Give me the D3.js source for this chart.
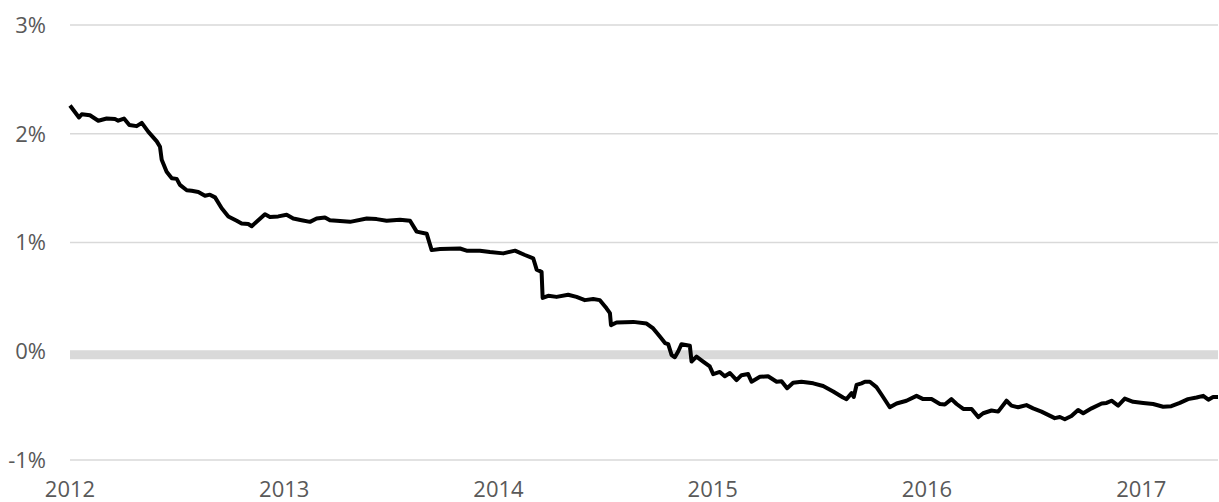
<!DOCTYPE html>
<html>
<head>
<meta charset="utf-8">
<script src="https://cdn.jsdelivr.net/npm/d3@7/dist/d3.min.js"></script>
<style>
  body { margin: 0; background: #fff; }
  text { font-family: "Open Sans", "Liberation Sans", sans-serif; fill: #595959; }
</style>
</head>
<body>
<div id="chart"></div>
<script>
/*SVG Size*/
var width = 1219;
var height = 502;

/*Data: time in decimal years, yield in percent*/
var years = [
  2012.000, 2012.042, 2012.055, 2012.093, 2012.132, 2012.171, 2012.210, 2012.225, 2012.252, 2012.277,
  2012.311, 2012.335, 2012.365, 2012.405, 2012.420, 2012.428, 2012.451, 2012.475, 2012.498, 2012.513,
  2012.545, 2012.568, 2012.599, 2012.630, 2012.653, 2012.677, 2012.708, 2012.739, 2012.778, 2012.801,
  2012.832, 2012.848, 2012.871, 2012.910, 2012.933, 2012.972, 2013.011, 2013.042, 2013.081, 2013.120,
  2013.151, 2013.190, 2013.213, 2013.245, 2013.307, 2013.385, 2013.431, 2013.478, 2013.540, 2013.587,
  2013.618, 2013.665, 2013.688, 2013.727, 2013.820, 2013.851, 2013.913, 2013.960, 2014.022, 2014.077,
  2014.123, 2014.162, 2014.178, 2014.201, 2014.206, 2014.232, 2014.271, 2014.325, 2014.364, 2014.403,
  2014.442, 2014.473, 2014.504, 2014.520, 2014.525, 2014.551, 2014.629, 2014.691, 2014.722, 2014.753,
  2014.777, 2014.792, 2014.808, 2014.823, 2014.839, 2014.854, 2014.893, 2014.901, 2014.924, 2014.955,
  2014.986, 2015.002, 2015.033, 2015.056, 2015.080, 2015.111, 2015.134, 2015.165, 2015.181, 2015.220,
  2015.258, 2015.298, 2015.321, 2015.347, 2015.375, 2015.414, 2015.469, 2015.515, 2015.562, 2015.608,
  2015.624, 2015.648, 2015.658, 2015.671, 2015.694, 2015.710, 2015.733, 2015.764, 2015.788, 2015.826,
  2015.858, 2015.904, 2015.951, 2015.982, 2016.021, 2016.060, 2016.083, 2016.114, 2016.138, 2016.169,
  2016.208, 2016.239, 2016.262, 2016.301, 2016.332, 2016.371, 2016.394, 2016.425, 2016.464, 2016.495,
  2016.534, 2016.565, 2016.596, 2016.620, 2016.643, 2016.674, 2016.705, 2016.729, 2016.768, 2016.815,
  2016.838, 2016.861, 2016.892, 2016.923, 2016.962, 2017.009, 2017.055, 2017.102, 2017.140, 2017.180,
  2017.218, 2017.258, 2017.289, 2017.313, 2017.335, 2017.358
];
var yields = [
  2.26, 2.15, 2.18, 2.17, 2.12, 2.14, 2.135, 2.12, 2.14, 2.08,
  2.07, 2.10, 2.02, 1.93, 1.88, 1.76, 1.65, 1.59, 1.585, 1.53,
  1.48, 1.475, 1.465, 1.43, 1.44, 1.415, 1.315, 1.24, 1.20, 1.175,
  1.17, 1.15, 1.19, 1.26, 1.235, 1.24, 1.255, 1.22, 1.205, 1.19,
  1.22, 1.23, 1.205, 1.20, 1.19, 1.22, 1.215, 1.20, 1.21, 1.20,
  1.10, 1.08, 0.93, 0.94, 0.945, 0.925, 0.925, 0.913, 0.90, 0.925,
  0.885, 0.855, 0.75, 0.73, 0.49, 0.51, 0.50, 0.52, 0.50, 0.47,
  0.48, 0.47, 0.395, 0.35, 0.24, 0.265, 0.27, 0.255, 0.21, 0.135,
  0.075, 0.065, -0.035, -0.055, 0.00, 0.065, 0.05, -0.095, -0.05, -0.095,
  -0.14, -0.21, -0.19, -0.23, -0.20, -0.265, -0.22, -0.21, -0.28, -0.235,
  -0.23, -0.28, -0.275, -0.34, -0.29, -0.28, -0.295, -0.32, -0.37, -0.425,
  -0.44, -0.385, -0.42, -0.31, -0.295, -0.28, -0.28, -0.33, -0.40, -0.515,
  -0.48, -0.455, -0.41, -0.44, -0.44, -0.485, -0.49, -0.44, -0.485, -0.53,
  -0.53, -0.605, -0.57, -0.545, -0.555, -0.455, -0.50, -0.515, -0.495, -0.525,
  -0.555, -0.585, -0.615, -0.605, -0.625, -0.595, -0.54, -0.57, -0.525, -0.48,
  -0.475, -0.455, -0.50, -0.435, -0.465, -0.475, -0.485, -0.51, -0.505, -0.475,
  -0.44, -0.425, -0.41, -0.445, -0.42, -0.42
];
var yTicks = [-1, 0, 1, 2, 3];
var xTicks = [2012, 2013, 2014, 2015, 2016, 2017];

/*Plot area*/
var left = 70;
var right = 1218;

var x = d3.scaleLinear()
          .domain([2012, d3.max(years)])
          .range([left, right]);

var y = d3.scaleLinear()
          .domain([-1, 3])
          .range([460, 25]);

var svg = d3.select("#chart").append("svg")
            .attr("width", width)
            .attr("height", height);

/*Gridlines*/
svg.selectAll("line.grid")
   .data(yTicks.filter(function(d){ return d !== 0; }))
   .enter().append("line")
   .attr("class", "grid")
   .attr("x1", left)
   .attr("x2", right)
   .attr("y1", function(d){ return y(d); })
   .attr("y2", function(d){ return y(d); })
   .attr("stroke", "#d9d9d9")
   .attr("stroke-width", 1.5);

/*Zero axis band*/
svg.append("rect")
   .attr("x", left)
   .attr("y", y(0) - 1)
   .attr("width", right - left)
   .attr("height", 9)
   .attr("fill", "#d9d9d9");

/*Y labels*/
svg.selectAll("text.ylab")
   .data(yTicks)
   .enter().append("text")
   .attr("class", "ylab")
   .attr("x", 46)
   .attr("y", function(d){ return y(d); })
   .attr("dy", "0.36em")
   .attr("text-anchor", "end")
   .style("font-size", "22px")
   .text(function(d){ return d + "%"; });

/*X labels*/
svg.selectAll("text.xlab")
   .data(xTicks)
   .enter().append("text")
   .attr("class", "xlab")
   .attr("x", function(d){ return x(d); })
   .attr("y", 497)
   .attr("text-anchor", "middle")
   .style("font-size", "22px")
   .text(function(d){ return d; });

/*Line*/
var line = d3.line()
             .x(function(d, i){ return x(years[i]); })
             .y(function(d){ return y(d); });

svg.append("path")
   .datum(yields)
   .attr("d", line)
   .attr("fill", "none")
   .attr("stroke", "#000")
   .attr("stroke-width", 4)
   .attr("stroke-linejoin", "round");
</script>
</body>
</html>
